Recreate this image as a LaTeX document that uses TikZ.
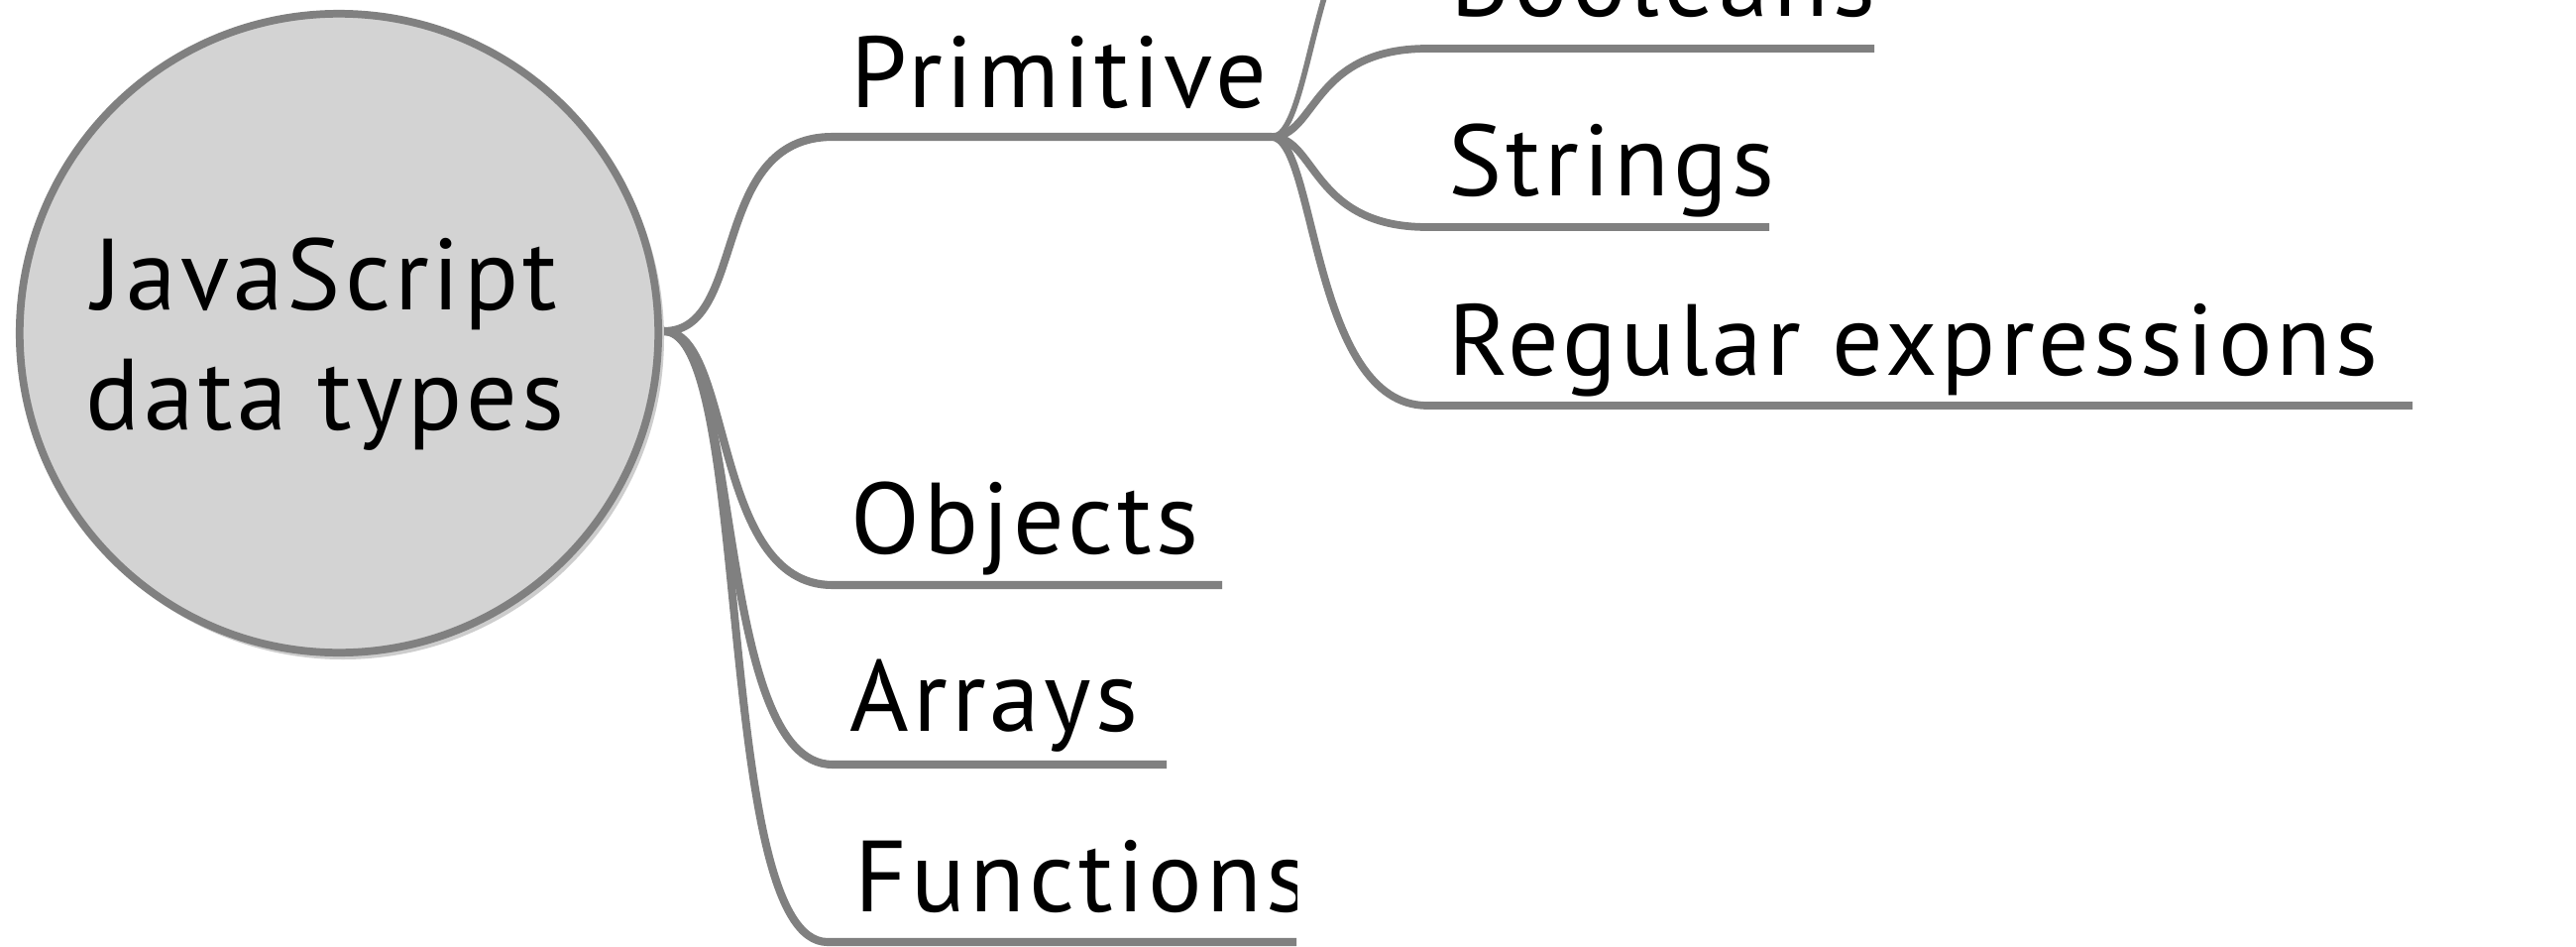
\documentclass[tikz,border=0pt]{standalone}
\usepackage{fontspec}
\newfontfamily\lblfont[LetterSpace=4.0]{PT Sans}
\definecolor{linegray}{RGB}{128,128,128}
\definecolor{rootfill}{RGB}{211,211,211}
\definecolor{shadowgray}{RGB}{205,205,205}
\tikzset{
  lbl/.style={font=\lblfont\fontsize{29}{34.4}\selectfont, inner sep=0pt, anchor=base west, text=black},
  branch/.style={draw=linegray, line width=2.3pt, line cap=butt},
  subbranch/.style={draw=linegray, line width=2.2pt, line cap=butt},
}
\begin{document}
\begin{tikzpicture}[x=0.01cm, y=-0.01cm]
\useasboundingbox (0,0) rectangle (2599,954);
\clip (0,0) rectangle (2599,954);
\fill[white] (0,0) rectangle (2599,954);

% coordinates of branch ends
\coordinate (rootE) at (670,334);
\coordinate (primS) at (840,138);
\coordinate (primE) at (1283,138);
\coordinate (objS) at (840,590);
\coordinate (objE) at (1233,590);
\coordinate (arrS) at (840,771);
\coordinate (arrE) at (1177,771);
\coordinate (funS) at (835,950);
\coordinate (funE) at (1308,950);
\coordinate (numS) at (1440,-132);
\coordinate (numE) at (1900,-132);
\coordinate (booS) at (1440,49);
\coordinate (booE) at (1891,49);
\coordinate (strS) at (1440,229);
\coordinate (strE) at (1785,229);
\coordinate (regS) at (1440,409);
\coordinate (regE) at (2434,409);

% labels
\node[lbl] (prim) at (858,108) {Primitive};
\node[lbl] (obj) at (858,558) {Objects};
\node[lbl] (arr) at (857,737) {Arrays};
\begin{scope}
\clip (0,0) rectangle (1308,954);
\node[lbl] (fun) at (862,919) {Functions};
\end{scope}
\node[lbl] (boo) at (1463,16) {Booleans};
\node[lbl] (str) at (1461,197) {Strings};
\node[lbl] (reg) at (1461,378) {Regular expressions};

% root branches
\draw[branch] (rootE) .. controls +(85,0) and +(-125,0) .. (primS) -- (primE);
\draw[branch] (rootE) .. controls +(70,0) and +(-123,0) .. (objS) -- (objE);
\draw[branch] (rootE) .. controls +(78,0) and +(-120,0) .. (arrS) -- (arrE);
\draw[branch] (rootE) .. controls +(90,0) and +(-115,0) .. (funS) -- (funE);

% primitive sub-branches
\draw[subbranch, line width=1.6pt] (primE) .. controls +(45,0) and +(-117,0) .. (numS) -- (numE);
\draw[subbranch] (primE) .. controls +(45,0) and +(-117,0) .. (booS) -- (booE);
\draw[subbranch] (primE) .. controls +(45,0) and +(-117,0) .. (strS) -- (strE);
\draw[subbranch] (primE) .. controls +(45,0) and +(-117,0) .. (regS) -- (regE);

% root circle
\fill[shadowgray] (346,341) circle (324);
\node[circle, draw=linegray, fill=rootfill, line width=2.2pt, minimum size=6.44cm, inner sep=0pt] (root) at (342,336) {};
\node[font=\lblfont\fontsize{29}{34.4}\selectfont, align=center, anchor=base, inner sep=0pt] (roottext) at (328,433) {JavaScript\\data types};
\end{tikzpicture}
\end{document}
